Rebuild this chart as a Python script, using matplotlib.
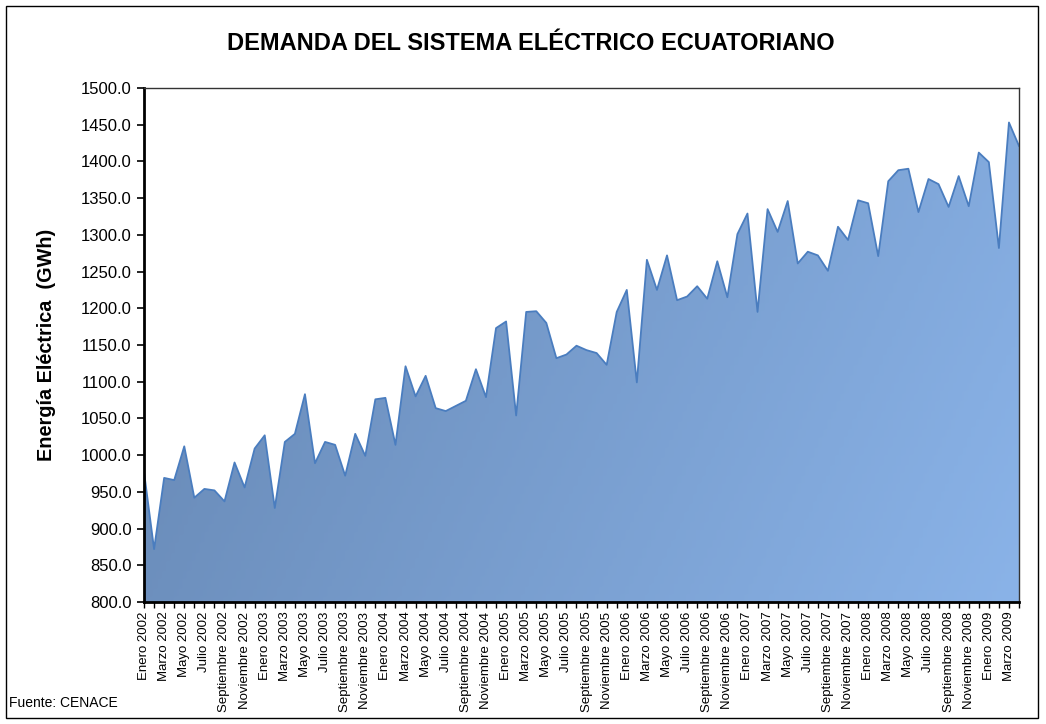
import numpy as np
import matplotlib.pyplot as plt
from matplotlib.colors import LinearSegmentedColormap
from matplotlib.patches import Rectangle

plt.rcParams['font.family'] = ['Liberation Sans', 'DejaVu Sans']

MESES = ['Enero', 'Febrero', 'Marzo', 'Abril', 'Mayo', 'Junio', 'Julio',
         'Agosto', 'Septiembre', 'Octubre', 'Noviembre', 'Diciembre']
YEARS = [2002, 2003, 2004, 2005, 2006, 2007, 2008, 2009]

# demanda mensual en GWh, enero 2002 - abril 2009
demanda = [
    977, 872, 969, 966, 1012, 942, 954, 952, 937, 990, 956, 1009,   # 2002
    1027, 928, 1018, 1029, 1083, 989, 1018, 1014, 972, 1029, 999, 1076,  # 2003
    1078, 1014, 1121, 1080, 1108, 1064, 1060, 1067, 1074, 1117, 1079, 1173,  # 2004
    1182, 1054, 1195, 1196, 1180, 1132, 1137, 1149, 1143, 1139, 1123, 1195,  # 2005
    1225, 1099, 1266, 1225, 1272, 1211, 1216, 1230, 1213, 1264, 1215, 1301,  # 2006
    1329, 1195, 1335, 1304, 1346, 1261, 1277, 1272, 1251, 1311, 1293, 1347,  # 2007
    1343, 1271, 1373, 1388, 1390, 1331, 1376, 1369, 1338, 1380, 1339, 1412,  # 2008
    1399, 1282, 1453, 1421,  # 2009
]

etiquetas = []
for y in YEARS:
    for m in MESES:
        etiquetas.append(f'{m} {y}')
etiquetas = etiquetas[:len(demanda)]

x = np.arange(len(demanda))
y = np.array(demanda, dtype=float)

fig = plt.figure(figsize=(10.46, 7.24), dpi=100)
ax = fig.add_axes([0.1377, 0.1685, 0.8365, 0.71])

ymin, ymax = 800, 1500
ax.set_xlim(0, len(demanda) - 1)
ax.set_ylim(ymin, ymax)

# relleno con degradado (mas claro hacia la derecha y hacia abajo)
poly = ax.fill_between(x, ymin, y, color='none', lw=0)
gx, gy = np.meshgrid(np.linspace(0, 1, 200), np.linspace(0, 1, 200))
grad = 0.78 * gx + 0.22 * gy
cmap = LinearSegmentedColormap.from_list('azul', ['#6586b2', '#8ab3e8'])
img = ax.imshow(grad, cmap=cmap, aspect='auto', origin='upper',
                extent=[0, len(demanda) - 1, ymin, ymax], zorder=1)
path = poly.get_paths()[0]
img.set_clip_path(path, transform=ax.transData)
ax.plot(x, y, color='#4a7dbf', lw=1.3, zorder=2)

ax.set_yticks(np.arange(800, 1501, 50))
ax.set_yticklabels([f'{v:.1f}' for v in np.arange(800, 1501, 50)], fontsize=12)
ax.set_xticks(x)
ax.set_xticklabels([e if i % 2 == 0 else '' for i, e in enumerate(etiquetas)],
                   rotation=90, fontsize=9.5)
ax.tick_params(axis='y', length=5, width=1.2, pad=4)
ax.tick_params(axis='x', length=4, width=1, pad=3)

for s in ['left', 'bottom']:
    ax.spines[s].set_linewidth(2)
for s in ['top', 'right']:
    ax.spines[s].set_linewidth(1)
    ax.spines[s].set_color('#333333')

ax.set_ylabel('Energía Eléctrica  (GWh)', fontsize=14.3, fontweight='bold', labelpad=18)
fig.text(0.507, 0.94, 'DEMANDA DEL SISTEMA ELÉCTRICO ECUATORIANO',
         ha='center', va='center', fontsize=17, fontweight='bold')
fig.text(0.009, 0.029, 'Fuente: CENACE', ha='left', va='center', fontsize=10)

fig.patches.append(Rectangle((6 / 1046, 6 / 724), 1032 / 1046, 712 / 724,
                             transform=fig.transFigure, fill=False,
                             edgecolor='black', lw=1))

fig.savefig('out.png', dpi=100)
